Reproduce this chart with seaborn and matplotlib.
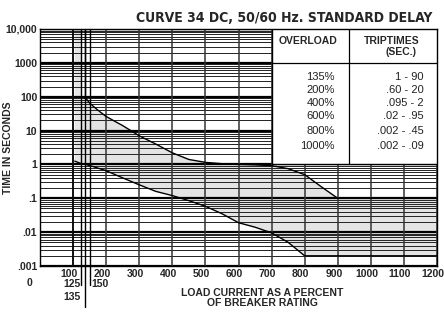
import numpy as np
import pandas as pd
import matplotlib
matplotlib.use("Agg")
import matplotlib.pyplot as plt
import matplotlib.transforms as mtransforms
from matplotlib import font_manager
import seaborn as sns

# curve data (percent of rating, seconds)
upper_pct = [135, 150, 175, 200, 250, 300, 350, 400, 450, 500, 550, 600, 650, 700, 750, 800, 850, 900, 1200]
upper_sec = [100, 65, 40, 26, 14, 7, 4, 2.2, 1.4, 1.15, 1.05, 1.0, 0.97, 0.92, 0.75, 0.5, 0.22, 0.1, 0.1]
lower_pct = [105, 120, 150, 200, 250, 300, 350, 400, 450, 500, 550, 600, 650, 700, 750, 800, 1200]
lower_sec = [1.25, 1.1, 0.93, 0.65, 0.4, 0.25, 0.16, 0.12, 0.085, 0.058, 0.035, 0.019, 0.014, 0.0095, 0.005, 0.002, 0.002]

x_ticks = [100, 200, 300, 400, 500, 600, 700, 800, 900, 1000, 1100, 1200]
y_ticks = [0.001, 0.01, 0.1, 1, 10, 100, 1000, 10000]
y_labels = [".001", ".01", ".1", "1", "10", "100", "1000", "10,000"]
marker_pct = [125, 135, 150]

overload = ["135%", "200%", "400%", "600%", "800%", "1000%"]
trip_times = ["1 - 90", ".60 - 20", ".095 - 2", ".02 - .95", ".002 - .45", ".002 - .09"]

sns.set_style("white")
plt.rcParams['font.family'] = ['Liberation Sans', 'DejaVu Sans']

# use a narrow bold face for the title if one is installed
narrow = [f.fname for f in font_manager.fontManager.ttflist
          if ('Narrow' in f.name or 'Condensed' in f.name or 'Condensed' in f.fname)
          and f.weight in ('bold', 700)]
title_font = font_manager.FontProperties(fname=narrow[0]) if narrow else \
    font_manager.FontProperties(family='Liberation Sans', weight='bold')

fig = plt.figure(figsize=(4.44, 3.16), dpi=100)
ax = fig.add_axes([40 / 444, 1 - 266 / 316, 397 / 444, 237 / 316])
ax.set_yscale('log')
ax.set_xlim(0, 1200)
ax.set_ylim(0.001, 10000)

# horizontal grid: every log step, heavier at the decades
for dec in range(-3, 4):
    for m in range(2, 10):
        ax.axhline(m * 10.0 ** dec, color='#222222', lw=0.7, zorder=1)
for v in y_ticks:
    ax.axhline(v, color='black', lw=1.6, zorder=1)

# vertical grid
for v in x_ticks:
    ax.axvline(v, color='#333333', lw=1.1, zorder=1)
ax.axvline(100, color='black', lw=1.1, zorder=1)

# shaded trip band
poly_x = [105, 125, 125] + upper_pct + lower_pct[::-1]
poly_y = [10000, 10000, 100] + upper_sec + lower_sec[::-1]
ax.fill(poly_x, poly_y, color='#e4e4e4', zorder=0, lw=0)

curves = pd.DataFrame({
    'pct': upper_pct + lower_pct,
    'sec': upper_sec + lower_sec,
    'curve': ['upper'] * len(upper_pct) + ['lower'] * len(lower_pct),
})
sns.lineplot(data=curves, x='pct', y='sec', units='curve', estimator=None,
             color='black', lw=1.0, ax=ax, zorder=3, sort=False)

# extra marker lines that run below the axis
trans = mtransforms.blended_transform_factory(ax.transData, ax.transAxes)
for p, yb in zip(marker_pct, [-0.08, -0.175, -0.08]):
    ax.plot([p, p], [yb, 1], color='black', lw=1.0, transform=trans, clip_on=False, zorder=4)
ax.plot([135, 135], [100, 10000], color='black', lw=1.0, zorder=4)

# x labels sit a little left of their grid lines in the original
ax.set_xticks(x_ticks)
ax.set_xticklabels([])
shift = trans + mtransforms.ScaledTranslation(-4 / 100, 0, fig.dpi_scale_trans)
for v in x_ticks:
    ax.text(v, -0.012, str(v), transform=shift, ha='center', va='top', fontsize=7.5, fontweight='bold')
ax.set_yticks(y_ticks)
ax.set_yticklabels(y_labels, fontsize=7.5, fontweight='bold')
ax.minorticks_off()
ax.tick_params(length=0, pad=2)
ax.set_xlabel("")
ax.set_ylabel("")
for s in ax.spines.values():
    s.set_color('black')
    s.set_linewidth(1.0)
    s.set_zorder(5)

ax.text(-0.02, -0.07, "0", transform=ax.transAxes, ha='right', va='center', fontsize=7.5, fontweight='bold')
ax.text(122, -0.075, "125", transform=trans, ha='right', va='center', fontsize=7.5, fontweight='bold')
ax.text(122, -0.13, "135", transform=trans, ha='right', va='center', fontsize=7.5, fontweight='bold')
ax.text(155, -0.075, "150", transform=trans, ha='left', va='center', fontsize=7.5, fontweight='bold')

fig.text(262 / 444, 1 - 298 / 316, "LOAD CURRENT AS A PERCENT\nOF BREAKER RATING", ha='center', va='center',
         fontsize=7.5, fontweight='bold', linespacing=0.95)
fig.text(8 / 444, 1 - 148 / 316, "TIME IN SECONDS", rotation=90, ha='center', va='center',
         fontsize=7.5, fontweight='bold')
title_font.set_size(12)
title = fig.text(432 / 444, 1 - 18 / 316, "CURVE 34 DC, 50/60 Hz. STANDARD DELAY", ha='right', va='center',
                 fontproperties=title_font)
# scale the title to roughly the width it has in the original
w = title.get_window_extent(renderer=fig.canvas.get_renderer()).width
title_font.set_size(12 * 298 / w)
title.set_fontproperties(title_font)

# trip time table
ax.add_patch(plt.Rectangle((700, 1), 500, 9999, facecolor='white', edgecolor='black', lw=1.0, zorder=6))
ax.plot([935, 935], [1, 10000], color='black', lw=0.9, zorder=7)
ax.plot([700, 1200], [1000, 1000], color='black', lw=0.9, zorder=7)
ax.text(810, 4300, "OVERLOAD", ha='center', va='center', fontsize=7.5, fontweight='bold', zorder=8)
ax.text(1062, 4500, "TRIPTIMES", ha='center', va='center', fontsize=7.5, fontweight='bold', zorder=8)
ax.text(1092, 2150, "(SEC.)", ha='center', va='center', fontsize=7.5, fontweight='bold', zorder=8)
row_y = [10 ** 2.59, 10 ** 2.2, 10 ** 1.82, 10 ** 1.43, 10 ** 0.98, 10 ** 0.54]
for ol, tt, yy in zip(overload, trip_times, row_y):
    ax.text(891, yy, ol, ha='right', va='center', fontsize=8, color='#222222', zorder=8)
    ax.text(1160, yy, tt, ha='right', va='center', fontsize=8, color='#222222', zorder=8)

fig.savefig("out.png", dpi=100)
